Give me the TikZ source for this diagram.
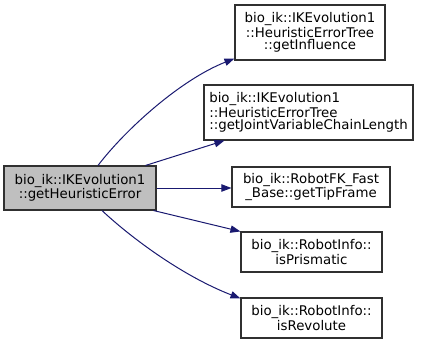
\documentclass[tikz,border=0pt]{standalone}
\usepackage{fontspec}
\setmainfont{DejaVu Sans}
\usetikzlibrary{arrows.meta,calc}
\definecolor{edgeblue}{HTML}{191970}
\definecolor{boxline}{HTML}{303030}
\definecolor{srcfill}{HTML}{BFBFBF}
\tikzset{
  fn/.style={draw=boxline, line width=0.8pt, fill=white, inner xsep=2pt, inner ysep=1pt,
    font=\fontsize{10}{9.5}\selectfont, align=center},
  src/.style={fn, fill=srcfill},
  call/.style={draw=edgeblue, line width=0.75pt,
    -{Triangle[length=7.5pt,width=5.5pt]}, fill=none},
}
\begin{document}
\begin{tikzpicture}[x=0.75pt,y=-0.75pt]
\useasboundingbox (0,0) rectangle (424,343);

\node[src, minimum width=152*0.75pt, minimum height=44*0.75pt] (src) at (80,188)
  {bio\_ik::IKEvolution1\\::getHeuristicError};

\node[fn, minimum width=150*0.75pt, minimum height=55*0.75pt] (n1) at (310,32.5)
  {bio\_ik::IKEvolution1\\::HeuristicErrorTree\\::getInfluence};
\node[fn, align=left, minimum width=209*0.75pt, minimum height=55*0.75pt] (n2) at (308.5,112.5)
  {bio\_ik::IKEvolution1\\::HeuristicErrorTree\\::getJointVariableChainLength};
\node[fn, minimum width=158*0.75pt, minimum height=40*0.75pt] (n3) at (311,187)
  {bio\_ik::RobotFK\_Fast\\\_Base::getTipFrame};
\node[fn, minimum width=141*0.75pt, minimum height=40*0.75pt] (n4) at (311.5,252)
  {bio\_ik::RobotInfo::\\isPrismatic};
\node[fn, minimum width=141*0.75pt, minimum height=40*0.75pt] (n5) at (311.5,318)
  {bio\_ik::RobotInfo::\\isRevolute};

\draw[call] ($(src.north)+(18,0)$) .. controls (125,130) and (180,80) .. ($(n1.south west)+(0,-2)$);
\draw[call] ($(src.north east)+(-11,0)$) -- ($(n2.south west)+(21,0)$);
\draw[call] (src.east) -- (src.east -| n3.west);
\draw[call] ($(src.south east)+(-3,0)$) -- ($(n4.north west)+(0,0)$);
\draw[call] ($(src.south)+(22,0)$) .. controls (128,235) and (180,275) .. ($(n5.north west)+(0,1)$);
\end{tikzpicture}
\end{document}
